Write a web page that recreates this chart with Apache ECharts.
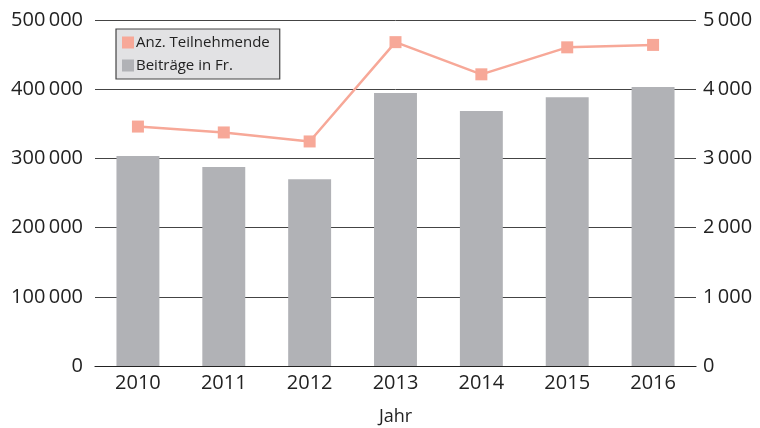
<!DOCTYPE html>
<html><head><meta charset="utf-8">
<script src="https://cdn.jsdelivr.net/npm/echarts@6/dist/echarts.min.js"></script>
<style>html,body{margin:0;padding:0;background:#fff}#c{width:760px;height:428px}</style>
</head><body><div id="c"></div>
<script>
const categories = ['2010','2011','2012','2013','2014','2015','2016'];
const beitraege = [303500, 287500, 270000, 394500, 368500, 388500, 403000];
const teilnehmende = [3460, 3375, 3245, 4680, 4215, 4605, 4640];
const leftTicks = [0, 100000, 200000, 300000, 400000, 500000];
const rightTicks = [0, 1000, 2000, 3000, 4000, 5000];

const FONT = '"Open Sans", "Noto Sans", sans-serif';
function fmt(v){ return String(v).replace(/\B(?=(\d{3})+(?!\d))/g, '\u2009'); }

const chart = echarts.init(document.getElementById('c'));
chart.setOption({
  animation: false,
  backgroundColor: '#fff',
  grid: { left: 95, right: 64, top: 20, bottom: 62, containLabel: false, outerBoundsMode: 'none' },
  legend: {
    orient: 'vertical', left: 116, top: 29,
    backgroundColor: '#e2e2e4', borderColor: '#444', borderWidth: 1.2,
    padding: [6, 10, 6, 6], itemGap: 8, itemWidth: 12, itemHeight: 12,
    icon: 'rect',
    textStyle: { fontFamily: FONT, fontSize: 15, color: '#222', padding: [0,0,0,-3] },
    data: [
      { name: 'Anz. Teilnehmende', itemStyle: { color: '#f7a898' } },
      { name: 'Beiträge in Fr.', itemStyle: { color: '#b1b2b6' } }
    ]
  },
  xAxis: {
    type: 'category', data: categories,
    name: 'Jahr', nameLocation: 'middle', nameGap: 42,
    nameTextStyle: { fontFamily: FONT, fontSize: 18, color: '#222' },
    axisLine: { lineStyle: { color: '#222', width: 1.2 } },
    axisTick: { show: false },
    axisLabel: { fontFamily: FONT, fontSize: 20, color: '#222', margin: 7 }
  },
  yAxis: [
    {
      type: 'value', min: 0, max: 500000, interval: 100000,
      axisLine: { show: false }, axisTick: { show: false },
      splitLine: { lineStyle: { color: '#444', width: 1 } },
      axisLabel: { fontFamily: FONT, fontSize: 20, color: '#222', margin: 12,
        formatter: v => fmt(v) }
    },
    {
      type: 'value', min: 0, max: 5000, interval: 1000,
      axisLine: { show: false }, axisTick: { show: false },
      splitLine: { show: false },
      axisLabel: { fontFamily: FONT, fontSize: 20, color: '#222', margin: 7,
        formatter: v => fmt(v) }
    }
  ],
  series: [
    {
      name: 'Beiträge in Fr.', type: 'bar', yAxisIndex: 0,
      data: beitraege, barWidth: '50%',
      itemStyle: { color: '#b1b2b6' }, z: 2
    },
    {
      name: 'Anz. Teilnehmende', type: 'line', yAxisIndex: 1,
      data: teilnehmende, symbol: 'rect', symbolSize: 12,
      lineStyle: { color: '#f7a898', width: 2.5 },
      itemStyle: { color: '#f7a898' }, z: 5
    }
  ]
});
</script></body></html>
